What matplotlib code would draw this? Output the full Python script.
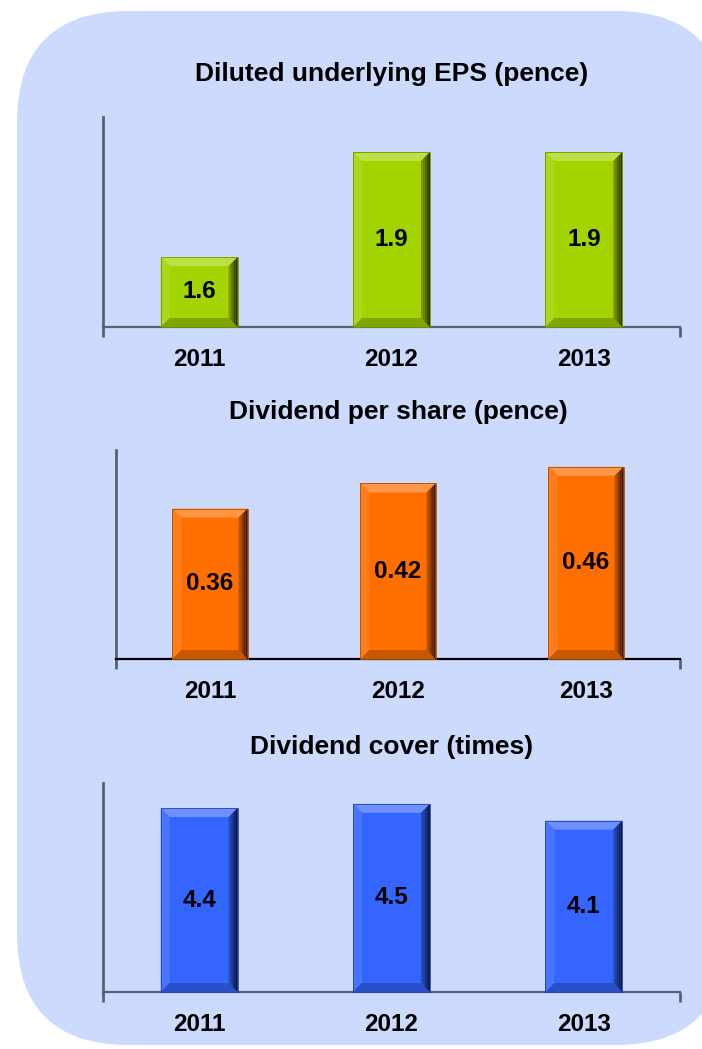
import matplotlib
matplotlib.use("Agg")
import matplotlib.pyplot as plt
from matplotlib.patches import FancyBboxPatch, Polygon
from matplotlib.transforms import IdentityTransform
import matplotlib.colors as mcolors
import numpy as np

plt.rcParams['font.family'] = ['Liberation Sans', 'DejaVu Sans']

# data
years = ['2011', '2012', '2013']
eps = [1.6, 1.9, 1.9]
dividend = [0.36, 0.42, 0.46]
cover = [4.4, 4.5, 4.1]

eps_labels = ['1.6', '1.9', '1.9']
dividend_labels = ['0.36', '0.42', '0.46']
cover_labels = ['4.4', '4.5', '4.1']

W, H = 702, 1049
BG = '#CCDAFD'


def mix(color, other, t):
    c = np.array(mcolors.to_rgb(color))
    o = np.array(mcolors.to_rgb(other))
    return tuple(c * (1 - t) + o * t)


def add_bevel(fig, ax, bars, color, d=9):
    # fake the 3D bevel of the original bars in pixel space
    for b in bars:
        x0, y0 = ax.transData.transform((b.get_x(), b.get_y()))
        x1, y1 = ax.transData.transform((b.get_x() + b.get_width(), b.get_y() + b.get_height()))
        faces = [
            ([(x0, y1), (x1, y1), (x1 - d, y1 - d), (x0 + d, y1 - d)], mix(color, 'white', 0.28)),
            ([(x0, y0), (x0, y1), (x0 + d, y1 - d), (x0 + d, y0 + d)], mix(color, 'white', 0.10)),
            ([(x0, y0), (x1, y0), (x1 - d, y0 + d), (x0 + d, y0 + d)], mix(color, 'black', 0.22)),
        ]
        # right edge: strips getting darker to the outside
        n = 5
        for i in range(n):
            xa = x1 - d + d * i / n
            xb = x1 - d + d * (i + 1) / n
            ya = y1 - d + d * i / n
            yb = y1 - d + d * (i + 1) / n
            ba = y0 + d - d * i / n
            bb = y0 + d - d * (i + 1) / n
            faces.append(([(xa, ba), (xa, ya), (xb, yb), (xb, bb)],
                          mix(color, 'black', 0.15 + 0.6 * (i + 1) / n)))
        for pts, c in faces:
            fig.add_artist(Polygon(pts, closed=True, facecolor=c, edgecolor='none',
                                   transform=IdentityTransform(), zorder=2))
        fig.add_artist(Polygon([(x0, y0), (x0, y1), (x1, y1), (x1, y0)], closed=True,
                               facecolor='none', edgecolor=mix(color, 'black', 0.3),
                               linewidth=0.6, transform=IdentityTransform(), zorder=3))


def panel(fig, box, values, labels, ylim, color, title, title_y, base_color):
    left, right, top, bottom = box
    ax = fig.add_axes([left / W, 1 - bottom / H, (right - left) / W, (bottom - top) / H])
    ax.set_facecolor('none')
    bars = ax.bar(range(len(years)), [v - ylim[0] for v in values], bottom=ylim[0],
                  width=0.40, color=color, zorder=2)
    ax.set_xlim(-0.5, 2.5)
    ax.set_ylim(*ylim)
    for s in ['top', 'right']:
        ax.spines[s].set_visible(False)
    ax.spines['left'].set_color('#5B6075')
    ax.spines['left'].set_linewidth(2)
    ax.spines['bottom'].set_color(base_color)
    ax.spines['bottom'].set_linewidth(1.6)
    ax.set_yticks([])
    ax.set_xticks(range(len(years)))
    ax.set_xticklabels(years, fontsize=17.5, fontweight='bold')
    ax.tick_params(axis='x', which='major', length=0, pad=15)
    ax.set_xticks([-0.5, 2.5], minor=True)
    ax.tick_params(axis='x', which='minor', length=7, width=2, color='#5B6075', direction='out')
    for i, (v, lab) in enumerate(zip(values, labels)):
        ax.text(i, (v + ylim[0]) / 2, lab, ha='center', va='center',
                fontsize=17.5, fontweight='bold', color='black', zorder=5)
    fig.text((left + right) / 2 / W, 1 - title_y / H, title, ha='center', va='center',
             fontsize=19, fontweight='bold')
    return ax, bars


fig = plt.figure(figsize=(W / 100, H / 100), dpi=100)
fig.patch.set_facecolor('white')

# rounded light-blue panel behind everything
bg = FancyBboxPatch((17, H - 1045), 710, 1034, boxstyle="round,pad=0,rounding_size=112",
                    facecolor=BG, edgecolor='none', transform=IdentityTransform(), zorder=-5)
fig.add_artist(bg)

green = '#A3D400'
orange = '#FF6F00'
blue = '#3565FF'

ax1, b1 = panel(fig, (103, 680, 117, 327), eps, eps_labels, (1.4, 2.0), green,
                'Diluted underlying EPS (pence)', 74, '#5B6075')
ax2, b2 = panel(fig, (116, 680, 450, 659), dividend, dividend_labels, (0, 0.5), orange,
                'Dividend per share (pence)', 412, 'black')
ax3, b3 = panel(fig, (103, 680, 783, 992), cover, cover_labels, (0, 5), blue,
                'Dividend cover (times)', 747, '#5B6075')

add_bevel(fig, ax1, b1, green)
add_bevel(fig, ax2, b2, orange)
add_bevel(fig, ax3, b3, blue)

fig.savefig('out.png', dpi=100, facecolor='white')
